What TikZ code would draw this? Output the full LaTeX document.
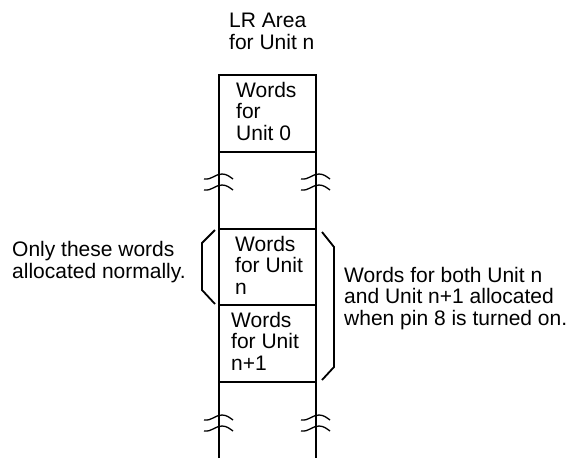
\documentclass[tikz,border=0pt]{standalone}
\usepackage{fontspec}
\setmainfont{Liberation Sans}
\usetikzlibrary{positioning}

\begin{document}
\begin{tikzpicture}[
x=1pt, y=-1pt,
every node/.style={inner sep=0, align=left, anchor=base west, font=\fontsize{21}{21.5}\selectfont},
wall/.style={line width=2.4pt},
brace/.style={line width=1.8pt},
cut/.style={line width=1.3pt}
]
\useasboundingbox (0,0) rectangle (570,458);
% the two walls of the area
\coordinate (tl) at (219,75);
\coordinate (tr) at (316,75);
\coordinate (bl) at (219,458);
\coordinate (br) at (316,458);
\draw[wall] (bl) -- (tl) -- (tr) -- (br);
\foreach \y in {152,229,305,382}
  \draw[wall] (219,\y) -- (316,\y);
% break marks
\foreach \x in {219,316}
  \foreach \y in {177,188,418,429}
    \draw[cut] (\x-15,\y+2) .. controls (\x-7,\y+3) and (\x-4,\y-3) .. (\x+3,\y-3)
      .. controls (\x+8,\y-3) and (\x+11,\y) .. (\x+14,\y+2);
% labels, placed by the baseline of their last line
\node (lr) at (229,49) {LR Area\\for Unit n};
\node (w0) at (236,140) {Words\\for\\Unit 0};
\node (wn) at (235,294) {Words\\for Unit\\n};
\node (wn1) at (231,370) {Words\\for Unit\\n+1};
\node (only) at (12,278) {Only these words\\allocated normally.};
\node (both) at (344,325) {Words for both Unit n\\and Unit n+1 allocated\\when pin 8 is turned on.};
% brackets
\coordinate (l1) at (215,230);
\coordinate (l2) at (202,243);
\coordinate (l3) at (202,290);
\coordinate (l4) at (215,304);
\draw[brace] (l1) -- (l2) -- (l3) -- (l4);
\coordinate (r1) at (322,232);
\coordinate (r2) at (334,247);
\coordinate (r3) at (334,367);
\coordinate (r4) at (322,380);
\draw[brace] (r1) -- (r2) -- (r3) -- (r4);
\end{tikzpicture}
\end{document}
